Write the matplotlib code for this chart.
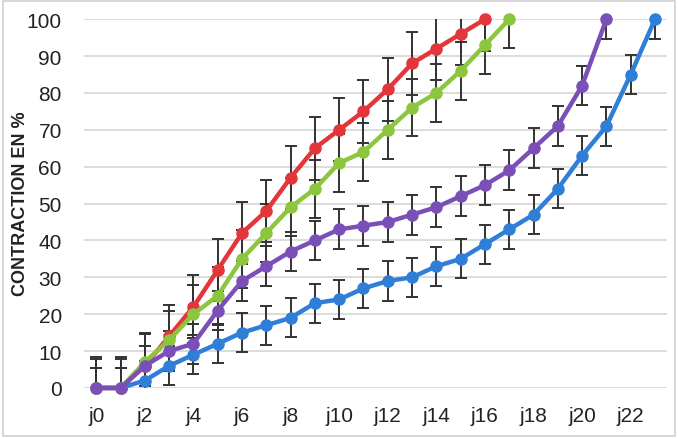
import numpy as np
import matplotlib.pyplot as plt
from matplotlib.patches import Rectangle

# donnees
jours = [f"j{i}" for i in range(24)]
rouge = [0, 0, 6, 14, 22, 32, 42, 48, 57, 65, 70, 75, 81, 88, 92, 96, 100]
vert = [0, 0, 7, 13, 20, 25, 35, 42, 49, 54, 61, 64, 70, 76, 80, 86, 93, 100]
violet = [0, 0, 6, 10, 12, 21, 29, 33, 37, 40, 43, 44, 45, 47, 49, 52, 55, 59,
          65, 71, 82, 100]
bleu = [0, 0, 2, 6, 9, 12, 15, 17, 19, 23, 24, 27, 29, 30, 33, 35, 39, 43, 47,
        54, 63, 71, 85, 100]
err_rouge = [8.5, 8.5, 8.5, 8.5, 8.5, 8.5, 8.5, 8.5, 8.5, 8.5, 8.5, 8.5, 8.5,
             8.5, 8.5, 8.5, 8.5]
err_vert = [7.8, 7.8, 7.8, 7.8, 7.8, 7.8, 7.8, 7.8, 7.8, 7.8, 7.8, 7.8, 7.8,
            7.8, 7.8, 7.8, 7.8, 7.8]
err_violet = [5.4, 5.4, 5.4, 5.4, 5.4, 5.4, 5.4, 5.4, 5.4, 5.4, 5.4, 5.4, 5.4,
              5.4, 5.4, 5.4, 5.4, 5.4, 5.4, 5.4, 5.4, 5.4]
err_bleu = [5.3, 5.3, 5.3, 5.3, 5.3, 5.3, 5.3, 5.3, 5.3, 5.3, 5.3, 5.3, 5.3,
            5.3, 5.3, 5.3, 5.3, 5.3, 5.3, 5.3, 5.3, 5.3, 5.3, 5.3]

series = [
    (bleu, err_bleu, '#2f7ed8'),
    (rouge, err_rouge, '#e2363b'),
    (vert, err_vert, '#8cc63f'),
    (violet, err_violet, '#7b4fb8'),
]

plt.rcParams['font.family'] = ['Liberation Sans', 'DejaVu Sans']

fig = plt.figure(figsize=(6.78, 4.39), dpi=100)
ax = fig.add_axes([0.124, 0.114, 0.86, 0.84])

for vals, err, col in series:
    x = np.arange(len(vals))
    ax.errorbar(x, vals, yerr=err, fmt='none', ecolor='#333333',
                elinewidth=1.4, capsize=4, capthick=1.4, zorder=2)
    ax.plot(x, vals, color=col, lw=3.2, marker='o', ms=8, zorder=3,
            clip_on=False)

ax.set_xlim(-0.5, 23.5)
ax.set_ylim(0, 100)
ax.set_yticks(range(0, 101, 10))
ax.set_xticks(range(0, 24, 2), jours[::2])
ax.tick_params(axis='both', length=0, labelsize=15, colors='#222222')
ax.tick_params(axis='y', pad=16)
ax.tick_params(axis='x', pad=13)
ax.grid(axis='y', color='#d9d9d9', lw=1.3)
ax.set_axisbelow(True)
for s in ax.spines.values():
    s.set_visible(False)

fig.text(0.03, 0.535, 'CONTRACTION EN %', rotation=90, ha='center',
         va='center', fontsize=13, fontweight='bold', color='#222222')

fig.patches.append(Rectangle((0.004, 0.004), 0.992, 0.992,
                             transform=fig.transFigure, fill=False,
                             edgecolor='#cfcfcf', lw=1.2))

plt.savefig("out.png", dpi=100)
